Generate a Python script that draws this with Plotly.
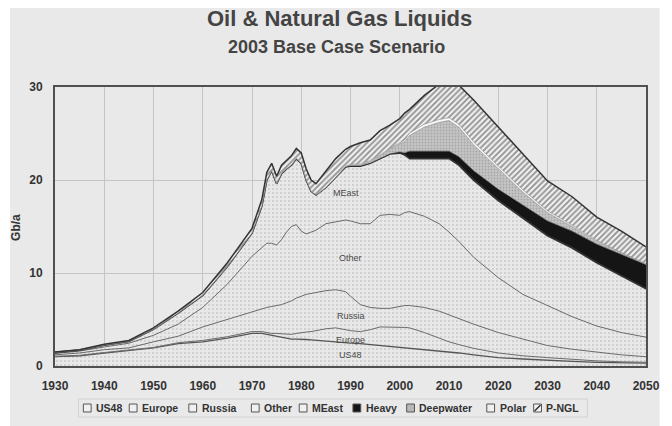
import plotly.graph_objects as go

years = [1930, 1935, 1940, 1945, 1950, 1955, 1960, 1965, 1970, 1972, 1973, 1974, 1975, 1976,
         1977, 1978, 1979, 1980, 1981, 1982, 1983, 1985, 1987, 1989, 1990, 1992, 1994, 1996,
         1998, 2000, 2001, 2002, 2005, 2008, 2010, 2012, 2015, 2020, 2025, 2030, 2035, 2040,
         2045, 2050]

us48 = [1.0, 1.1, 1.4, 1.7, 1.95, 2.4, 2.6, 3.0, 3.5, 3.5, 3.4, 3.3, 3.2, 3.1,
        3.0, 2.9, 2.9, 2.9, 2.85, 2.8, 2.75, 2.7, 2.6, 2.5, 2.45, 2.4, 2.3, 2.2,
        2.1, 2.0, 2.0, 1.95, 1.8, 1.6, 1.5, 1.4, 1.2, 0.9, 0.75, 0.6, 0.5, 0.4,
        0.35, 0.3]
europe = [0.05, 0.05, 0.05, 0.05, 0.05, 0.1, 0.15, 0.15, 0.2, 0.2, 0.2, 0.2, 0.3, 0.35,
          0.4, 0.5, 0.6, 0.7, 0.8, 0.9, 1.05, 1.3, 1.5, 1.4, 1.35, 1.3, 1.6, 2.0,
          2.1, 2.2, 2.15, 2.15, 1.8, 1.4, 1.1, 0.9, 0.7, 0.5, 0.35, 0.3, 0.2, 0.15,
          0.1, 0.1]
russia = [0.15, 0.25, 0.3, 0.2, 0.6, 0.7, 1.45, 1.85, 2.1, 2.5, 2.7, 2.9, 3.0, 3.15,
          3.4, 3.6, 3.8, 3.9, 4.05, 4.1, 4.1, 4.1, 4.1, 4.1, 3.7, 2.9, 2.4, 2.0,
          2.0, 2.2, 2.35, 2.4, 2.7, 2.9, 2.9, 2.8, 2.6, 2.2, 1.8, 1.3, 1.1, 0.95,
          0.75, 0.6]
other = [0.15, 0.2, 0.3, 0.5, 0.7, 1.3, 2.1, 3.8, 6.0, 6.6, 6.9, 6.8, 6.5, 7.0,
         7.6, 8.0, 7.9, 7.0, 6.5, 6.6, 6.7, 7.2, 7.3, 7.7, 8.1, 8.7, 9.0, 10.0,
         10.1, 9.8, 10.0, 10.1, 9.8, 9.4, 8.9, 8.3, 7.2, 5.9, 4.8, 4.3, 3.5, 2.8,
         2.4, 2.1]
meast = [0.1, 0.1, 0.2, 0.2, 0.65, 1.2, 1.3, 1.9, 2.5, 4.4, 6.8, 7.8, 6.6, 7.1,
         6.8, 6.6, 7.1, 7.3, 5.8, 4.4, 3.8, 3.9, 4.8, 5.7, 5.9, 6.2, 6.5, 6.1,
         6.5, 6.7, 6.2, 5.7, 6.2, 7.0, 7.9, 8.2, 8.3, 8.3, 8.2, 7.5, 7.4, 6.8,
         6.1, 5.2]
heavy = [0, 0, 0, 0, 0, 0, 0, 0, 0, 0, 0, 0, 0, 0,
         0, 0, 0, 0, 0, 0, 0, 0, 0, 0, 0, 0, 0, 0,
         0, 0.1, 0.2, 0.8, 0.8, 0.8, 0.8, 0.9, 1.0, 1.2, 1.4, 1.6, 1.8, 2.0,
         2.3, 2.6]
deepwater = [0, 0, 0, 0, 0, 0, 0, 0, 0, 0, 0, 0, 0, 0,
             0, 0, 0, 0, 0, 0, 0, 0, 0, 0.05, 0.1, 0.1, 0.2, 0.3,
             0.5, 0.9, 1.2, 1.7, 2.6, 3.1, 3.3, 3.2, 2.8, 2.2, 1.4, 0.9, 0.5, 0.3,
             0.15, 0.05]
polar = [0, 0, 0, 0, 0, 0, 0, 0, 0, 0, 0, 0, 0, 0,
         0, 0, 0, 0, 0, 0, 0, 0, 0, 0, 0.1, 0.1, 0.1, 0.1,
         0.1, 0.15, 0.2, 0.25, 0.3, 0.3, 0.3, 0.3, 0.3, 0.3, 0.25, 0.2, 0.15, 0.1,
         0.05, 0.05]
pngl = [0.05, 0.05, 0.1, 0.1, 0.15, 0.2, 0.3, 0.4, 0.5, 0.7, 0.8, 0.8, 0.8, 0.9,
        0.9, 1.0, 1.1, 1.1, 1.2, 1.2, 1.2, 1.7, 2.0, 1.85, 1.9, 2.3, 2.2, 2.6,
        2.5, 2.55, 2.9, 2.55, 3.1, 3.8, 4.1, 4.2, 4.5, 4.2, 3.85, 3.2, 3.05, 2.5,
        2.3, 1.8]

series_names = ["US48", "Europe", "Russia", "Other", "MEast", "Heavy", "Deepwater", "Polar", "P-NGL"]
series_vals = [us48, europe, russia, other, meast, heavy, deepwater, polar, pngl]

x_ticks = [1930, 1940, 1950, 1960, 1970, 1980, 1990, 2000, 2010, 2020, 2030, 2040, 2050]
y_ticks = [0, 10, 20, 30]

title_text = "Oil & Natural Gas Liquids"
subtitle_text = "2003 Base Case Scenario"
y_title = "Gb/a"

region_labels = ["MEast", "Other", "Russia", "Europe", "US48"]
region_label_x = [1989, 1990, 1990, 1990, 1990]
region_label_y = [18.6, 11.6, 5.4, 2.8, 1.2]

# ---------------- layout constants (pixels) ----------------
W, H = 672, 426
ML, MR, MT, MB = 55, 12, 87, 60
PW, PH = W - ML - MR, H - MT - MB


def px_x(p):
    return (p - ML) / PW


def px_y(p):
    return (H - MB - p) / PH


FONT = "Liberation Sans, Arial, sans-serif"
BG = "#e9e9e9"

dots = dict(shape=".", fgcolor="#a8a8a8", bgcolor="#e8e8e8", size=4, solidity=0.18)
styles = {
    "US48": dict(line=dict(color="#555555", width=1.3), fillpattern=dots),
    "Europe": dict(line=dict(color="#6a6a6a", width=1), fillpattern=dots),
    "Russia": dict(line=dict(color="#6a6a6a", width=1), fillpattern=dots),
    "Other": dict(line=dict(color="#6a6a6a", width=1), fillpattern=dots),
    "MEast": dict(line=dict(color="#333333", width=1.8), fillpattern=dots),
    "Heavy": dict(line=dict(color="#1a1a1a", width=0.5), fillcolor="#151515"),
    "Deepwater": dict(line=dict(color="#777777", width=0.5),
                      fillpattern=dict(shape=".", fgcolor="#8a8a8a", bgcolor="#c4c4c4", size=3, solidity=0.3)),
    "Polar": dict(line=dict(color="#8a8a8a", width=0.6), fillcolor="#fafafa"),
    "P-NGL": dict(line=dict(color="#333333", width=1.5),
                  fillpattern=dict(shape="/", fgcolor="#3c3c3c", bgcolor="#f4f4f4", size=4, solidity=0.5)),
}

fig = go.Figure()
for name, vals in zip(series_names, series_vals):
    st = styles[name]
    fig.add_trace(go.Scatter(
        x=years, y=vals, name=name, mode="lines", stackgroup="one",
        line=dict(shape="linear", **st["line"]),
        fillcolor=st.get("fillcolor"),
        fillpattern=st.get("fillpattern"),
        hoverinfo="skip", showlegend=False,
    ))

for txt, lx, ly in zip(region_labels, region_label_x, region_label_y):
    fig.add_annotation(x=lx, y=ly, text=txt, showarrow=False,
                       font=dict(family=FONT, size=9, color="#4a4a4a"))

shapes = []
# scanned page background with white border
shapes.append(dict(type="rect", xref="paper", yref="paper", x0=px_x(9), x1=px_x(W + 2),
                   y0=px_y(H + 2), y1=px_y(8), fillcolor=BG, line=dict(width=0), layer="below"))

# titles
fig.add_annotation(xref="paper", yref="paper", x=px_x(346), y=px_y(19), text="<b>%s</b>" % title_text,
                   showarrow=False, xanchor="center", yanchor="middle",
                   font=dict(family=FONT, size=22, color="#444444"))
fig.add_annotation(xref="paper", yref="paper", x=px_x(343), y=px_y(47), text="<b>%s</b>" % subtitle_text,
                   showarrow=False, xanchor="center", yanchor="middle",
                   font=dict(family=FONT, size=18, color="#444444"))
fig.add_annotation(xref="paper", yref="paper", x=px_x(15), y=px_y(227), text="<b>%s</b>" % y_title,
                   showarrow=False, textangle=-90, xanchor="center", yanchor="middle",
                   font=dict(family=FONT, size=12, color="#333333"))

# manual legend (small boxes like the original)
legend_text_px = [95, 142, 203, 267, 316, 371, 426, 508, 556]
legend_y_px = 408
box = 8
shapes.append(dict(type="rect", xref="paper", yref="paper", x0=px_x(79), x1=px_x(600),
                   y0=px_y(399), y1=px_y(417), line=dict(color="#d2d2d2", width=1),
                   fillcolor="rgba(0,0,0,0)"))
box_fill = {"Heavy": "#151515", "Deepwater": "#b8b8b8", "P-NGL": "#f4f4f4"}
for name, tx in zip(series_names, legend_text_px):
    bx0 = tx - 11
    shapes.append(dict(type="rect", xref="paper", yref="paper",
                       x0=px_x(bx0), x1=px_x(bx0 + box),
                       y0=px_y(legend_y_px + box / 2), y1=px_y(legend_y_px - box / 2),
                       fillcolor=box_fill.get(name, "#f0f0f0"), line=dict(color="#555555", width=1)))
    if name == "P-NGL":
        shapes.append(dict(type="line", xref="paper", yref="paper",
                           x0=px_x(bx0 + 1), x1=px_x(bx0 + box - 1),
                           y0=px_y(legend_y_px + box / 2 - 1), y1=px_y(legend_y_px - box / 2 + 1),
                           line=dict(color="#333333", width=1.5)))
    fig.add_annotation(xref="paper", yref="paper", x=px_x(tx), y=px_y(legend_y_px), text="<b>%s</b>" % name,
                       showarrow=False, xanchor="left", yanchor="middle",
                       font=dict(family=FONT, size=10.5, color="#333333"))

fig.update_layout(
    width=W, height=H,
    margin=dict(l=ML, r=MR, t=MT, b=MB),
    paper_bgcolor="white",
    plot_bgcolor=BG,
    font=dict(family=FONT, color="#333333"),
    shapes=shapes,
    showlegend=False,
    xaxis=dict(
        range=[1930, 2050], tickvals=x_ticks, ticktext=[str(t) for t in x_ticks],
        showgrid=True, gridcolor="#c4c4c4", gridwidth=1,
        showline=True, linecolor="#505050", linewidth=2, mirror=True,
        ticks="", ticklabelstandoff=8,
        tickfont=dict(family=FONT, size=12, color="#333333", weight="bold"),
        zeroline=False,
    ),
    yaxis=dict(
        range=[0, 30], tickvals=y_ticks,
        showgrid=True, gridcolor="#c4c4c4", gridwidth=1,
        showline=True, linecolor="#505050", linewidth=2, mirror=True,
        ticks="", ticklabelstandoff=8,
        tickfont=dict(family=FONT, size=12, color="#333333", weight="bold"),
        zeroline=False,
    ),
)

fig.write_html("out.html")
